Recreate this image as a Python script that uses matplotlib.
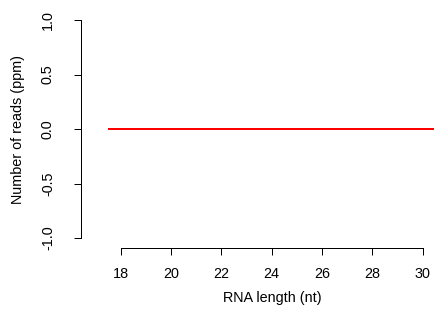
import matplotlib
matplotlib.use("Agg")
import matplotlib.pyplot as plt

lengths = [17.5, 18.5, 19.5, 20.5, 21.5, 22.5, 23.5, 24.5, 25.5, 26.5, 27.5, 28.5, 29.5, 30.5]
reads_ppm = [0, 0, 0, 0, 0, 0, 0, 0, 0, 0, 0, 0, 0, 0]
xticks = [18, 20, 22, 24, 26, 28, 30]
yticks = [-1.0, -0.5, 0.0, 0.5, 1.0]

W, H = 434, 322
DPI = 72
FS = 14.4
plt.rcParams['font.family'] = ['Liberation Sans', 'DejaVu Sans']
fig = plt.figure(figsize=(W / DPI, H / DPI), dpi=DPI)

# axes region in pixels
left_px, right_px, top_px, bottom_px = 81, 434, 10, 248
ax = fig.add_axes([left_px / W, 1 - bottom_px / H, (right_px - left_px) / W, (bottom_px - top_px) / H])

# data mapping: x 18 -> 120.5 px, 30 -> 422.5 px ; y 1 -> 20 px, -1 -> 238 px
xs = (422.5 - 120.5) / 12.0
ax.set_xlim(18 - (120.5 - left_px) / xs, 18 + (right_px - 120.5) / xs)
ys = (238 - 20) / 2.0
ax.set_ylim(-1 - (bottom_px - 238) / ys, 1 + (20 - top_px) / ys)

ax.plot(lengths, reads_ppm, color='red', linewidth=2, solid_capstyle='butt')

for s in ['top', 'right']:
    ax.spines[s].set_visible(False)
ax.spines['left'].set_bounds(-1, 1)
ax.spines['bottom'].set_bounds(18, 30)
for s in ['left', 'bottom']:
    ax.spines[s].set_linewidth(1)
    ax.spines[s].set_color('black')

ax.set_xticks(xticks)
ax.set_xticklabels([str(t) for t in xticks])
ax.set_yticks(yticks)
ax.set_yticklabels(['%.1f' % t for t in yticks], rotation=90, va='center')
ax.tick_params(axis='both', direction='out', length=7, width=1, labelsize=FS)
ax.tick_params(axis='x', pad=12)
ax.tick_params(axis='y', pad=19)

fig.text(272 / W, 1 - 298 / H, 'RNA length (nt)', ha='center', va='center', fontsize=FS)
fig.text(18 / W, 1 - 129 / H, 'Number of reads (ppm)', ha='center', va='center', rotation=90, fontsize=FS)

fig.savefig('out.png', dpi=DPI)
